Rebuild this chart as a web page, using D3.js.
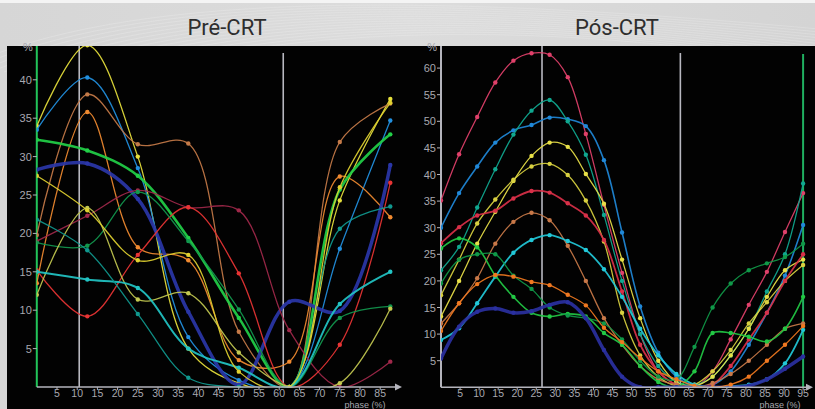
<!DOCTYPE html>
<html>
<head>
<meta charset="utf-8">
<script src="https://cdn.jsdelivr.net/npm/d3@7"></script>
<style>
  body { margin: 0; background: #d8d8d8; }
  svg { display: block; }
</style>
</head>
<body>
<svg id="chart" width="815" height="409"></svg>
<script>
"use strict";

// --- data ---
const titles = ["Pré-CRT", "Pós-CRT"];

const phaseL = [0, 12.5, 25, 37.5, 50, 62.5, 75, 87.5];
const colorsL = ["#e6e03c", "#2290e0", "#c47a48", "#f08a30", "#22d048", "#2a36a8",
    "#a0284a", "#e83434", "#12984e", "#c2c850", "#22c4c4", "#10988e", "#e0d030"];
const widthsL = [1.3, 1.3, 1.3, 1.3, 2.6, 3.5, 1.3, 1.3, 1.3, 1.3, 2, 1.3, 1.3];
const valuesL = [
    [34, 44.5, 30, 5, 0.5, 0, 24.3, 37.5],
    [33.5, 40.3, 28.5, 6.5, 0.9, 0, 18, 34.7],
    [19.8, 38.1, 31.6, 31.7, 7.2, 0, 31.9, 36.9],
    [13.5, 35.8, 18.2, 16.5, 3.5, 3.3, 27.4, 22.1],
    [32.2, 30.8, 27.5, 19.4, 9, 0, 25.7, 32.9],
    [28.3, 29.1, 24.5, 9.8, 0.3, 11.1, 9.9, 28.9],
    [19, 22.3, 25.6, 23.4, 23, 7.4, 0, 3.3],
    [15.2, 9.2, 17.2, 23.4, 14.8, 0, 5.5, 26.6],
    [18.8, 18.4, 25.4, 19, 10.1, 0, 9, 10.5],
    [12, 23.3, 11.4, 12.2, 4.5, 0, 0.5, 10.2],
    [15, 14, 12.9, 5, 2.5, 0, 10.8, 15],
    [21.8, 17.8, 9.5, 1.2, 0, 0, 20.6, 23.5],
    [27.5, 23, 16.5, 17.2, 2, 0, 26, 37]
];

const phaseR = d3.range(21).map(i => i * 4.75);
const colorsR = ["#e0406a", "#2088d8", "#10a890", "#e8e048", "#d8d040", "#d83048",
    "#c87848", "#22c8d8", "#22c844", "#109848", "#2a30a0", "#f07820"];
const widthsR = [1.3, 1.6, 1.3, 1.3, 1.3, 1.8, 1.3, 1.8, 1.6, 1.3, 3.5, 1.3];
const valuesR = [
    [35.1, 43.8, 50.8, 57.3, 61.4, 62.8, 62.5, 58.3, 47.6, 34.3, 21.5, 10, 3, 0.5, 0, 3, 9, 15.5, 21.7, 29.2, 36.5],
    [30, 36.5, 41.5, 46, 48.3, 49.3, 50.7, 50.4, 49.1, 42.7, 29.1, 15.2, 6.5, 2, 0.3, 0.5, 3, 8, 14, 21, 30.5],
    [22, 26.4, 33.8, 41, 47.5, 52, 54, 50, 43.7, 32.4, 20, 10, 4, 1, 0.5, 2, 6, 11, 18, 25, 38.3],
    [13.3, 20, 27, 33, 38.8, 43.5, 46, 45.2, 40.1, 34.5, 24, 13, 5, 1, 0.3, 2, 6, 11, 17, 22, 24],
    [17.3, 24, 30.8, 35.3, 39, 41.5, 42, 39.9, 35.1, 27.4, 14, 6, 2, 0.3, 0.5, 3, 7, 12, 16, 20, 23],
    [27.1, 30.1, 32.3, 33.2, 35.5, 36.9, 36.6, 34.6, 32.3, 27.7, 18, 8, 3, 0.5, 0, 0.5, 4, 9, 14, 20, 25],
    [12, 15.8, 20.5, 27, 31.1, 32.8, 31.4, 26.6, 20, 13, 8, 4, 1.5, 0.5, 0, 0.8, 2.5, 5, 8, 11, 12],
    [8.9, 11.1, 15.8, 20.8, 25.3, 27.7, 28.6, 27.5, 25.8, 22.2, 17, 11, 6, 2.5, 0.5, 0, 0.2, 0.5, 1.5, 4.5, 10.8],
    [26.1, 28, 26.3, 21, 17, 14, 13.3, 13.8, 13.3, 10.2, 8, 4, 1, 0, 3, 10.2, 10.2, 9.5, 8.6, 11, 17],
    [19.5, 24, 25, 25, 21, 18.5, 15, 13.5, 13, 12, 9, 5, 2, 1.5, 7.6, 15, 19.5, 22, 23.3, 24.5, 27],
    [5.4, 11.4, 14.2, 14.8, 14, 14.3, 15.5, 16, 13, 7, 2, 0, 0, 0, 0, 0, 0, 0.3, 1.5, 3.5, 5.8],
    [10.6, 15.8, 19.4, 21.1, 20.8, 19.8, 19.2, 17.4, 15.4, 11.2, 8.5, 5.5, 3, 1.5, 0.3, 0, 0.5, 2, 5, 8, 11.5]
];

const ticksXL = d3.range(5, 90, 5);
const ticksYL = d3.range(5, 45, 5);
const ticksXR = d3.range(5, 100, 5);
const ticksYR = d3.range(5, 65, 5);
const markersL = [10.5, 61];
const markersR = [26.5, 62.8];

// --- layout ---
const svg = d3.select("#chart");
const plotTop = 46;

// backdrop
const defs = svg.append("defs");
const grad = defs.append("linearGradient").attr("id", "bg").attr("x1", 0).attr("x2", 1);
grad.append("stop").attr("offset", 0).attr("stop-color", "#d6d6d6");
grad.append("stop").attr("offset", 0.5).attr("stop-color", "#dcdcdc");
grad.append("stop").attr("offset", 1).attr("stop-color", "#d4d4d4");
svg.append("rect").attr("width", 815).attr("height", 409).attr("fill", "url(#bg)");
svg.append("rect").attr("width", 815).attr("height", 3).attr("fill", "#f4f4f4");
// faint wavy texture
for (let i = 0; i < 14; i++) {
    svg.append("path")
        .attr("d", `M${-20 + i * 6},${60 + i * 3} C${150 + i * 8},${-10 + i * 2} ${450 + i * 10},${-5 + i * 2} ${830},${30 + i * 3}`)
        .attr("fill", "none").attr("stroke", "#ffffff").attr("stroke-opacity", 0.18).attr("stroke-width", 1);
}
svg.append("rect").attr("x", 7).attr("y", plotTop).attr("width", 808).attr("height", 409 - plotTop).attr("fill", "#020202");

function panel(opt) {
    let x = d3.scaleLinear().domain(opt.xDomain).range(opt.xRange);
    let y = d3.scaleLinear().domain(opt.yDomain).range(opt.yRange);
    let g = svg.append("g");
    let y0 = y(0);
    let x0 = x(0);

    g.append("text")
        .attr("x", opt.titleX).attr("y", 35)
        .attr("text-anchor", "middle")
        .style("font-family", "Roboto, 'Noto Sans', sans-serif")
        .style("font-size", "22px")
        .style("fill", "#2e2e2e")
        .text(opt.title);

    let clipId = "clip-" + opt.id;
    defs.append("clipPath").attr("id", clipId)
        .append("rect")
        .attr("x", x0).attr("y", plotTop)
        .attr("width", opt.clipRight - x0).attr("height", y0 - plotTop + 0.5);

    // y axis line
    g.append("line")
        .attr("x1", x0).attr("x2", x0).attr("y1", plotTop).attr("y2", y0)
        .attr("stroke", opt.yAxisColor).attr("stroke-width", 2);

    // marker lines
    opt.markers.forEach((m, i) => {
        g.append("line")
            .attr("x1", x(m)).attr("x2", x(m)).attr("y1", i === 0 ? plotTop : plotTop + 7).attr("y2", y0)
            .attr("stroke", "#b8b8c0").attr("stroke-width", 1.6);
    });
    if (opt.greenMarker !== undefined) {
        g.append("line")
            .attr("x1", x(opt.greenMarker)).attr("x2", x(opt.greenMarker)).attr("y1", plotTop + 8).attr("y2", y0)
            .attr("stroke", "#20b060").attr("stroke-width", 2);
    }

    // curves
    let line = d3.line()
        .x(d => x(d[0]))
        .y(d => y(d[1]))
        .curve(d3.curveCatmullRom.alpha(0.5));
    let plot = g.append("g").attr("clip-path", `url(#${clipId})`);
    opt.values.forEach((vals, i) => {
        let pts = vals.map((v, j) => [opt.phases[j], v]);
        plot.append("path")
            .attr("d", line(pts))
            .attr("fill", "none")
            .attr("stroke", opt.colors[i])
            .attr("stroke-width", opt.widths[i])
            .attr("stroke-opacity", 0.92);
        plot.selectAll(null)
            .data(pts)
            .enter().append("circle")
            .attr("cx", d => x(d[0]))
            .attr("cy", d => y(d[1]))
            .attr("r", 2.2)
            .attr("fill", opt.colors[i]);
    });

    // x axis with arrow
    g.append("line")
        .attr("x1", x0).attr("x2", opt.axisEnd - 4).attr("y1", y0).attr("y2", y0)
        .attr("stroke", "#b4b4bc").attr("stroke-width", 1.6);
    g.append("path")
        .attr("d", `M${opt.axisEnd},${y0} l-7,-3.5 l0,7 z`)
        .attr("fill", "#b4b4bc");

    let tickStyle = sel => sel
        .style("font-family", "'Liberation Sans', Arial, sans-serif")
        .style("font-size", "11px")
        .style("fill", "#a8a8b0");

    g.selectAll(null).data(opt.xTicks).enter().append("line")
        .attr("x1", d => x(d)).attr("x2", d => x(d))
        .attr("y1", y0).attr("y2", y0 + 3)
        .attr("stroke", "#b4b4bc");
    g.selectAll(null).data(opt.xTicks).enter().append("text")
        .attr("x", d => x(d)).attr("y", y0 + 9.5)
        .attr("text-anchor", "middle")
        .call(tickStyle)
        .style("font-size", "10.5px")
        .text(d => d);

    g.selectAll(null).data(opt.yTicks).enter().append("line")
        .attr("x1", x0 - 4).attr("x2", x0)
        .attr("y1", d => y(d)).attr("y2", d => y(d))
        .attr("stroke", "#b4b4bc");
    g.selectAll(null).data(opt.yTicks).enter().append("text")
        .attr("x", x0 - 5).attr("y", d => y(d) + 4)
        .attr("text-anchor", "end")
        .call(tickStyle)
        .text(d => d);

    g.append("text")
        .attr("x", x0 - 4).attr("y", plotTop + 5)
        .attr("text-anchor", "end")
        .call(tickStyle)
        .text("%");

    g.append("text")
        .attr("x", opt.phaseLabelX).attr("y", 407.5)
        .attr("text-anchor", "middle")
        .call(tickStyle)
        .style("font-size", "9px")
        .text("phase (%)");
}

panel({
    id: "pre", title: titles[0], titleX: 227,
    phases: phaseL, values: valuesL, colors: colorsL, widths: widthsL,
    xDomain: [0, 85], xRange: [36.8, 380.2],
    yDomain: [0, 45], yRange: [387, 41.4],
    xTicks: ticksXL, yTicks: ticksYL,
    markers: markersL, yAxisColor: "#22c45a",
    clipRight: 403, axisEnd: 402, phaseLabelX: 365
});

panel({
    id: "pos", title: titles[1], titleX: 617,
    phases: phaseR, values: valuesR, colors: colorsR, widths: widthsR,
    xDomain: [0, 95], xRange: [441, 803.1],
    yDomain: [0, 60], yRange: [387.3, 68.1],
    xTicks: ticksXR, yTicks: ticksYR,
    markers: markersR, greenMarker: 95, yAxisColor: "#b4b4bc",
    clipRight: 815, axisEnd: 813, phaseLabelX: 780
});
</script>
</body>
</html>
